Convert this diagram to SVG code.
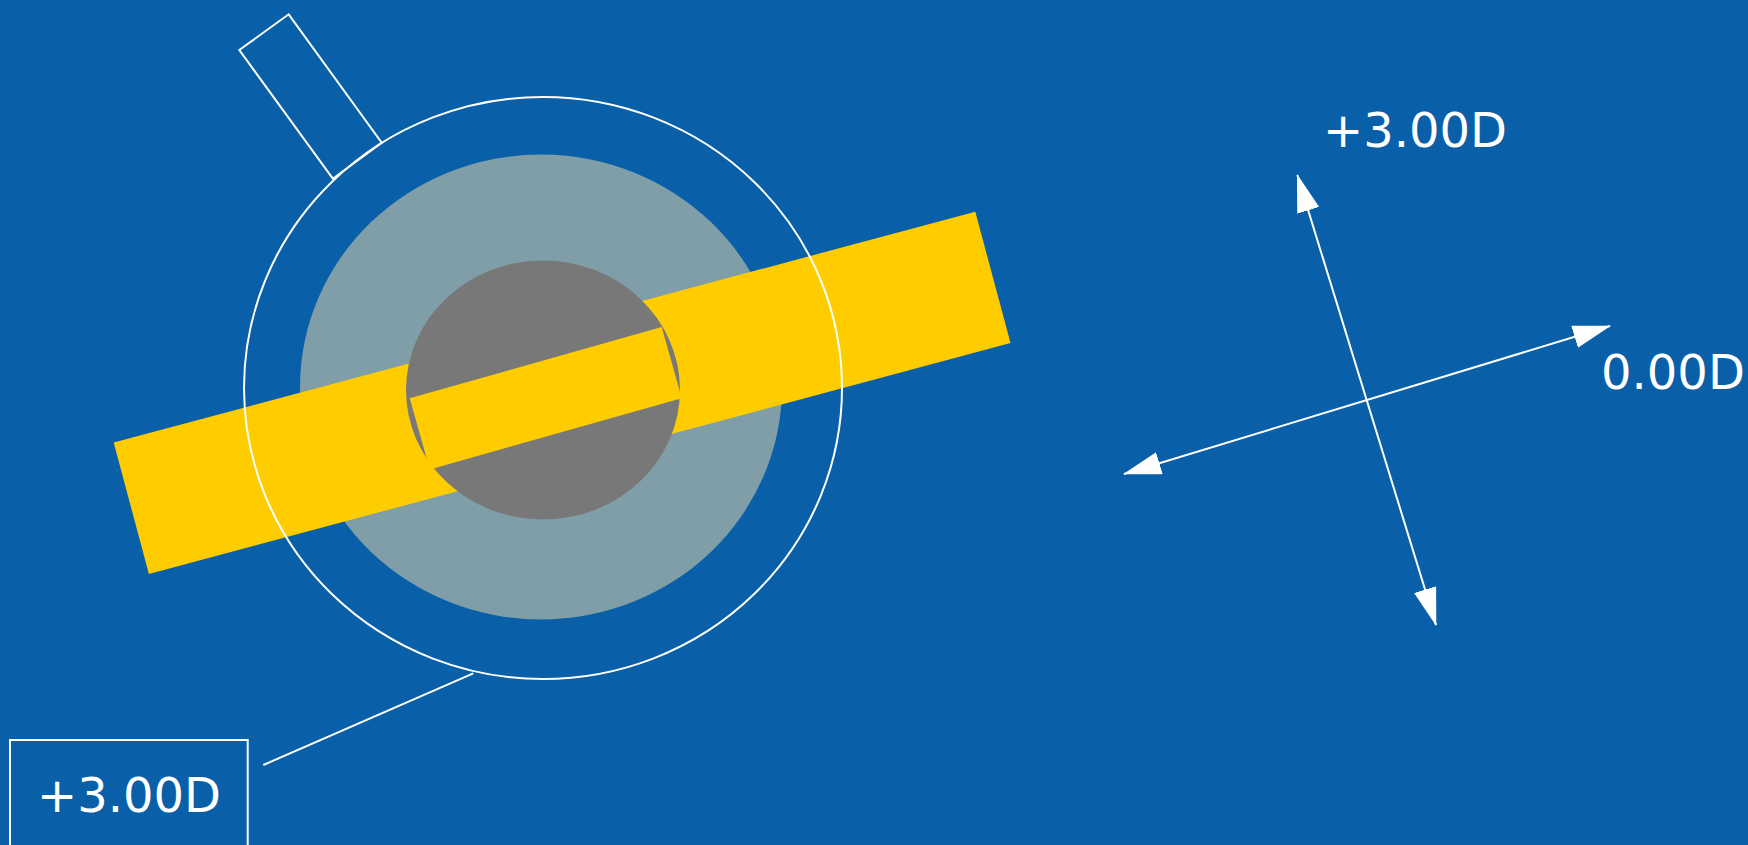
<svg xmlns="http://www.w3.org/2000/svg" width="1748" height="845" viewBox="0 0 1748 845">
  <defs>
    <style>
      .ln { stroke: #ffffff; stroke-width: 2; fill: none; }
      .lbl { font-family: "DejaVu Sans", "Liberation Sans", sans-serif; font-size: 48px; fill: #ffffff; }
    </style>
    <marker id="ah" viewBox="0 0 38 23" refX="37" refY="11.5" markerWidth="38" markerHeight="23" markerUnits="userSpaceOnUse" orient="auto-start-reverse">
      <path d="M0,0 L38,11.5 L0,23 Z" fill="#ffffff"/>
    </marker>
  </defs>
  <rect x="0" y="0" width="1748" height="845" fill="#0a60a8"/>

  <g id="lens">
    <ellipse cx="541" cy="387" rx="241" ry="232.5" fill="#7f9ea8"/>
    <rect x="113.7" y="442.6" width="892" height="136" fill="#ffcc00" transform="rotate(-15 113.7 442.6)"/>
    <ellipse cx="543" cy="390" rx="137" ry="129.5" fill="#787878"/>
    <polygon points="409.7,398.3 661.7,327 681.8,398.2 429.8,469.5" fill="#ffcc00"/>
    <ellipse cx="543" cy="388" rx="299" ry="291" class="ln" stroke-width="1.8"/>
  </g>

  <g id="tab">
    <polygon points="239.3,50 288.7,14.3 381.7,142.7 332.8,178.7" class="ln"/>
  </g>

  <g id="label-box">
    <rect x="10" y="740" width="237.7" height="140" class="ln"/>
    <text x="129" y="812" class="lbl" text-anchor="middle">+3.00D</text>
  </g>

  <g id="axis-labels">
    <text x="1323" y="147" class="lbl">+3.00D</text>
    <text x="1601" y="389" class="lbl">0.00D</text>
  </g>

  <g id="connectors">
    <line x1="263.3" y1="765" x2="473.3" y2="673.3" class="ln"/>
    <line x1="1297.3" y1="175" x2="1436" y2="625" class="ln" marker-start="url(#ah)" marker-end="url(#ah)"/>
    <line x1="1124" y1="474" x2="1610" y2="326" class="ln" marker-start="url(#ah)" marker-end="url(#ah)"/>
  </g>
</svg>
